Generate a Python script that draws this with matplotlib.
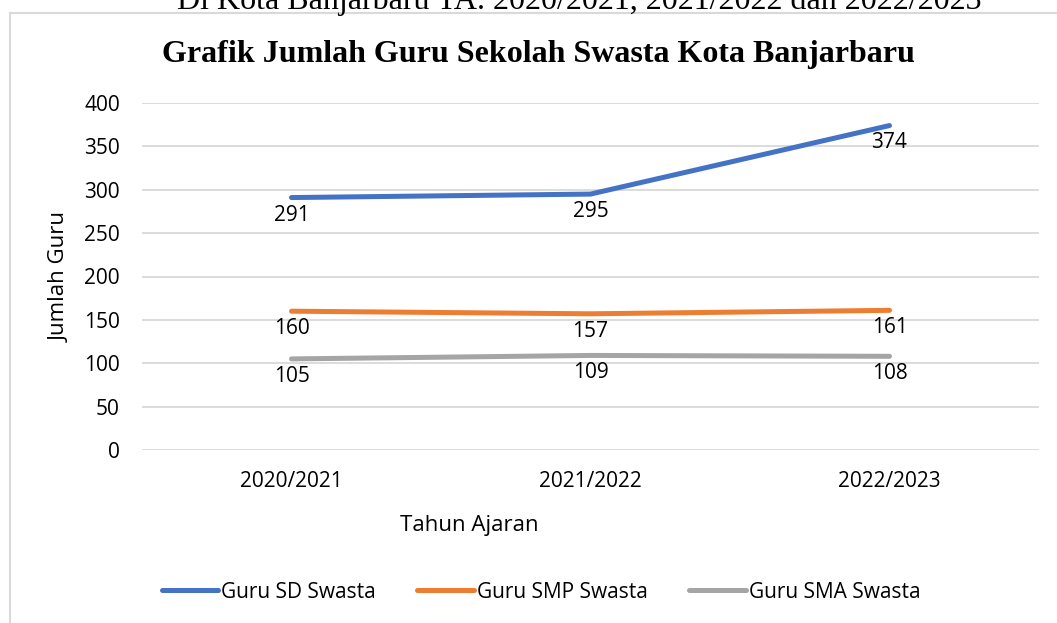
import matplotlib
matplotlib.use('Agg')
import matplotlib.pyplot as plt
from matplotlib.patches import Rectangle

tahun = ['2020/2021', '2021/2022', '2022/2023']
guru_sd = [291, 295, 374]
guru_smp = [160, 157, 161]
guru_sma = [105, 109, 108]
series = [('Guru SD Swasta', guru_sd, '#4472C4'),
          ('Guru SMP Swasta', guru_smp, '#ED7D31'),
          ('Guru SMA Swasta', guru_sma, '#A5A5A5')]

plt.rcParams['font.family'] = ['Open Sans', 'DejaVu Sans']

fig = plt.figure(figsize=(10.57, 6.23), dpi=100)
ax = fig.add_axes([142/1057, 1-450/623, (1039-142)/1057, (450-103)/623])

# chart frame (clipped on the right and bottom like the source)
fig.patches.append(Rectangle((10/1057, -0.1), 1.2, 1-13/623+0.1, transform=fig.transFigure,
                             fill=False, edgecolor='#D9D9D9', lw=1.5))

x = list(range(len(tahun)))
for name, vals, col in series:
    ax.plot(x, vals, color=col, lw=3.6, solid_capstyle='round', label=name)
    for xi, v in zip(x, vals):
        ax.annotate(str(v), (xi, v), xytext=(0, -5), textcoords='offset points',
                    ha='center', va='top', fontsize=15, color='black')

ax.set_xlim(-0.5, 2.5)
ax.set_ylim(0, 400)
ax.set_yticks(range(0, 401, 50))
ax.set_xticks(x)
ax.set_xticklabels(tahun)
ax.tick_params(length=0, labelsize=15)
ax.tick_params(axis='y', pad=16)
ax.tick_params(axis='x', pad=15)
ax.grid(axis='y', color='#D9D9D9', lw=1.3)
ax.set_axisbelow(True)
for s in ax.spines.values():
    s.set_visible(False)

fig.text(60/1057, 1-277/623, 'Jumlah Guru', rotation=90, ha='center', va='center', fontsize=16)
fig.text(469/1057, 1-525/623, 'Tahun Ajaran', ha='center', va='center', fontsize=16)

fig.text(538/1057, 1-62/623, 'Grafik Jumlah Guru Sekolah Swasta Kota Banjarbaru',
         ha='center', va='baseline', fontsize=23, fontweight='bold', family='Liberation Serif')
fig.text(579/1057, 1-9/623, 'Di Kota Banjarbaru TA. 2020/2021, 2021/2022 dan 2022/2023',
         ha='center', va='baseline', fontsize=23, family='Liberation Serif')

fig.legend(loc='center', bbox_to_anchor=(541/1057, 1-592/623), ncol=3, frameon=False,
           fontsize=15, handlelength=2.7, handletextpad=0.15, columnspacing=2.0)

fig.savefig('out.png', dpi=100)
